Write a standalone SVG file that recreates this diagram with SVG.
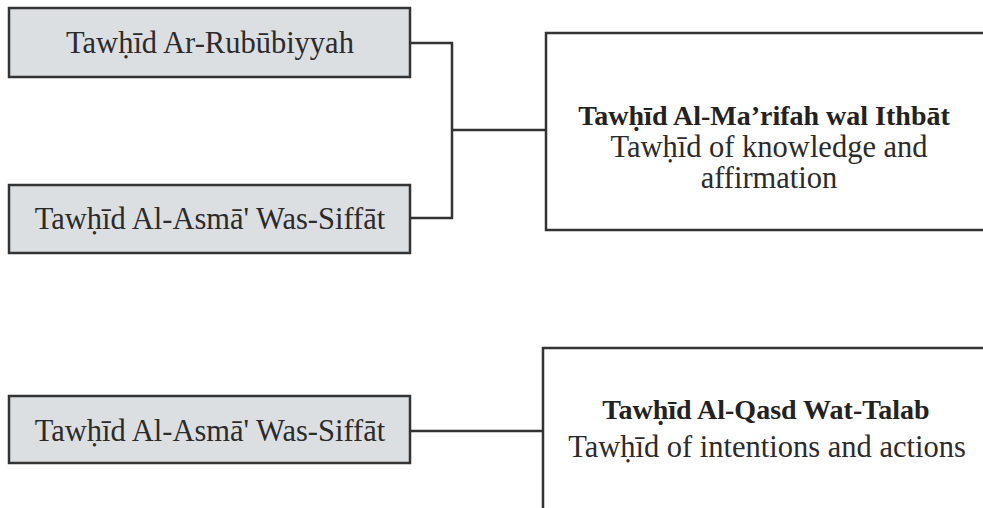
<svg xmlns="http://www.w3.org/2000/svg" width="983" height="508" viewBox="0 0 983 508">
<style>
.box{fill:#dcdfe2;stroke:#333;stroke-width:2.5}
.obox{fill:none;stroke:#333;stroke-width:2.5}
.line{fill:none;stroke:#333;stroke-width:2.5}
</style>
<rect width="983" height="508" fill="#fff"/>
<g id="connectors">
<polyline class="line" points="410,43 452,43 452,218 410,218"/>
<line class="line" x1="452" y1="130" x2="546" y2="130"/>
<line class="line" x1="410" y1="431" x2="543" y2="431"/>
</g>
<g id="n1">
<rect class="box" x="9" y="8" width="401" height="69"/>
<text x="210" y="53" font-family="Liberation Serif" font-size="30.5" fill="#2b2b2b" text-anchor="middle">Tawḥīd Ar-Rubūbiyyah</text>
</g>
<g id="n2">
<rect class="box" x="9" y="185" width="401" height="68"/>
<text x="210" y="229" font-family="Liberation Serif" font-size="30.5" fill="#2b2b2b" text-anchor="middle">Tawḥīd Al-Asmā' Was-Siffāt</text>
</g>
<g id="n3">
<polyline class="obox" points="985,33 546,33 546,230 985,230"/>
<text x="764" y="125" font-family="Liberation Serif" font-size="28" font-weight="bold" fill="#222" text-anchor="middle">Tawḥīd Al-Ma’rifah wal Ithbāt</text>
<text x="769" y="157" font-family="Liberation Serif" font-size="30.5" fill="#2b2b2b" text-anchor="middle">Tawḥīd of knowledge and</text>
<text x="769" y="188" font-family="Liberation Serif" font-size="30.5" fill="#2b2b2b" text-anchor="middle">affirmation</text>
</g>
<g id="n4">
<rect class="box" x="9" y="396" width="401" height="67"/>
<text x="210" y="441" font-family="Liberation Serif" font-size="30.5" fill="#2b2b2b" text-anchor="middle">Tawḥīd Al-Asmā' Was-Siffāt</text>
</g>
<g id="n5">
<polyline class="obox" points="985,348 543,348 543,510"/>
<text x="766" y="419" font-family="Liberation Serif" font-size="28" font-weight="bold" fill="#222" text-anchor="middle">Tawḥīd Al-Qasd Wat-Talab</text>
<text x="767" y="457" font-family="Liberation Serif" font-size="30.5" fill="#2b2b2b" text-anchor="middle">Tawḥīd of intentions and actions</text>
</g>
</svg>
